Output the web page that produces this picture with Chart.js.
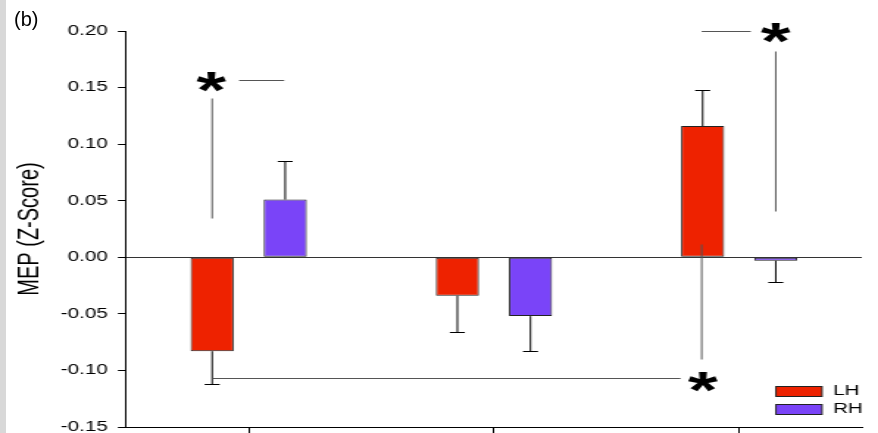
<!DOCTYPE html>
<html>
<head>
<meta charset="utf-8">
<script src="https://cdn.jsdelivr.net/npm/chart.js@4.4.1/dist/chart.umd.min.js"></script>
<style>
  html, body { margin: 0; padding: 0; background: #fff; overflow: hidden; }
  #page { position: relative; width: 878px; height: 433px; }
  /* the original figure is drawn with a wide, stretched look: draw narrow, then stretch */
  #wrap { position: absolute; left: 0; top: 0; width: 597px; height: 433px; transform: scaleX(1.4707); transform-origin: 0 0; }
  #stripe { position: absolute; left: 0; top: 0; width: 6px; height: 433px; background: #d8d8d8; }
  #panel { position: absolute; left: 14px; top: 8px; font: 20px "Liberation Sans", Arial, sans-serif; color: #000; }
  canvas { position: absolute; left: 0; top: 0; }
</style>
</head>
<body>
<div id="page">
  <div id="wrap">
    <canvas id="chart" width="597" height="433"></canvas>
  </div>
  <div id="stripe"></div>
  <div id="panel">(b)</div>
</div>
<script>
// categories (no labels shown on the axis)
const groups = ['', '', ''];

// means
const lhValues = [-0.083, -0.034, 0.116];
const rhValues = [0.051, -0.052, -0.003];

// error bar ends (one-sided, away from zero)
const lhErrors = [-0.112, -0.066, 0.148];
const rhErrors = [0.085, -0.083, -0.022];

const seriesNames = ['LH', 'RH'];
const seriesColors = ['#ee2200', '#7a44f8'];

// y axis
const yMin = -0.15;
const yMax = 0.20;
const yStep = 0.05;

// significance annotations, in data units (x = category index, y = value)
const annoLines = [
    { x1: -0.149, y1: 0.141, x2: -0.149, y2: 0.035 },
    { x1: -0.039, y1: 0.157, x2: 0.145, y2: 0.157 },
    { x1: 1.847, y1: 0.200, x2: 2.047, y2: 0.200 },
    { x1: 2.149, y1: 0.182, x2: 2.149, y2: 0.041 },
    { x1: -0.145, y1: -0.107, x2: 1.761, y2: -0.107 },
    { x1: 1.847, y1: 0.012, x2: 1.847, y2: -0.090 }
];
const annoStars = [
    { x: -0.153, y: 0.155 },
    { x: 2.149, y: 0.198 },
    { x: 1.851, y: -0.110 }
];

const FONT = '"Liberation Sans", Arial, sans-serif';

// ERROR BARS
const errorBars = {
    id: 'errorBars',
    afterDatasetsDraw(chart) {
        const ctx = chart.ctx;
        const y = chart.scales.y;
        const ends = [lhErrors, rhErrors];
        ctx.save();
        ctx.strokeStyle = '#000';
        ctx.lineWidth = 1;
        chart.data.datasets.forEach((ds, di) => {
            const meta = chart.getDatasetMeta(di);
            meta.data.forEach((bar, i) => {
                const x = bar.x;
                const yEnd = Math.round(y.getPixelForValue(ends[di][i])) + 0.5;
                ctx.beginPath();
                ctx.moveTo(x, bar.y);
                ctx.lineTo(x, yEnd);
                ctx.moveTo(x - 5.1, yEnd);
                ctx.lineTo(x + 5.1, yEnd);
                ctx.stroke();
            });
        });
        ctx.restore();
    }
};

// ANNOTATIONS + LEGEND
const extras = {
    id: 'extras',
    afterDraw(chart) {
        const ctx = chart.ctx;
        const xs = chart.scales.x;
        const ys = chart.scales.y;
        const px = v => xs.getPixelForValue(0) + v * (xs.getPixelForValue(1) - xs.getPixelForValue(0));
        ctx.save();
        ctx.strokeStyle = '#555';
        ctx.lineWidth = 1;
        annoLines.forEach(l => {
            ctx.beginPath();
            ctx.moveTo(px(l.x1), Math.round(ys.getPixelForValue(l.y1)) + 0.5);
            ctx.lineTo(px(l.x2), Math.round(ys.getPixelForValue(l.y2)) + 0.5);
            ctx.stroke();
        });

        ctx.fillStyle = '#000';
        ctx.font = 'bold 52px ' + FONT;
        ctx.textAlign = 'center';
        ctx.textBaseline = 'alphabetic';
        annoStars.forEach(s => {
            const m = ctx.measureText('*');
            // put the middle of the glyph's ink on the point
            const base = ys.getPixelForValue(s.y) + (m.actualBoundingBoxAscent - m.actualBoundingBoxDescent) / 2;
            ctx.fillText('*', px(s.x), base);
        });

        // legend
        ctx.font = '14px ' + FONT;
        ctx.textAlign = 'left';
        ctx.textBaseline = 'middle';
        seriesNames.forEach((name, i) => {
            const top = 386 + i * 18;
            ctx.fillStyle = seriesColors[i];
            ctx.fillRect(527.6, top, 31.3, 10);
            ctx.strokeStyle = '#222';
            ctx.strokeRect(527.6, top + 0.5, 31.3, 10);
            ctx.fillStyle = '#000';
            ctx.fillText(name, 566.4, top + 5.5);
        });
        ctx.restore();
    }
};

new Chart(document.getElementById('chart'), {
    type: 'bar',
    data: {
        labels: groups,
        datasets: [
            { label: seriesNames[0], data: lhValues, backgroundColor: seriesColors[0], borderColor: '#222', borderWidth: 1 },
            { label: seriesNames[1], data: rhValues, backgroundColor: seriesColors[1], borderColor: '#222', borderWidth: 1 }
        ]
    },
    options: {
        responsive: false,
        animation: false,
        events: [],
        layout: { padding: { left: 8, right: 11, top: 31, bottom: 0 } },
        datasets: { bar: { categoryPercentage: 0.596, barPercentage: 0.59, borderSkipped: false } },
        plugins: { legend: { display: false }, tooltip: { enabled: false } },
        scales: {
            x: {
                afterFit: s => { s.height = 6; s.paddingLeft = 0; s.paddingRight = 0; },
                ticks: { display: false },
                grid: { offset: false, drawOnChartArea: false, tickLength: 6, color: '#000' },
                border: { display: true, color: '#000' }
            },
            y: {
                min: yMin,
                max: yMax,
                afterFit: s => { s.width = 77.7; s.paddingTop = 0; s.paddingBottom = 0; },
                afterBuildTicks: s => {
                    const t = [];
                    for (let i = 0; i <= Math.round((yMax - yMin) / yStep); i++) t.push({ value: +(yMin + i * yStep).toFixed(2) });
                    s.ticks = t;
                },
                ticks: {
                    color: '#000',
                    padding: 7,
                    font: { family: FONT, size: 14 },
                    callback: v => v.toFixed(2)
                },
                grid: {
                    tickLength: 5.5,
                    color: c => (c.tick && c.tick.value === 0) ? '#333' : 'transparent',
                    tickColor: '#000'
                },
                border: { display: true, color: '#000' },
                title: {
                    display: true,
                    text: 'MEP (Z-Score)',
                    color: '#000',
                    font: { family: FONT, size: 20 },
                    padding: { top: 0, bottom: 0 }
                }
            }
        }
    },
    plugins: [errorBars, extras]
});
</script>
</body>
</html>
